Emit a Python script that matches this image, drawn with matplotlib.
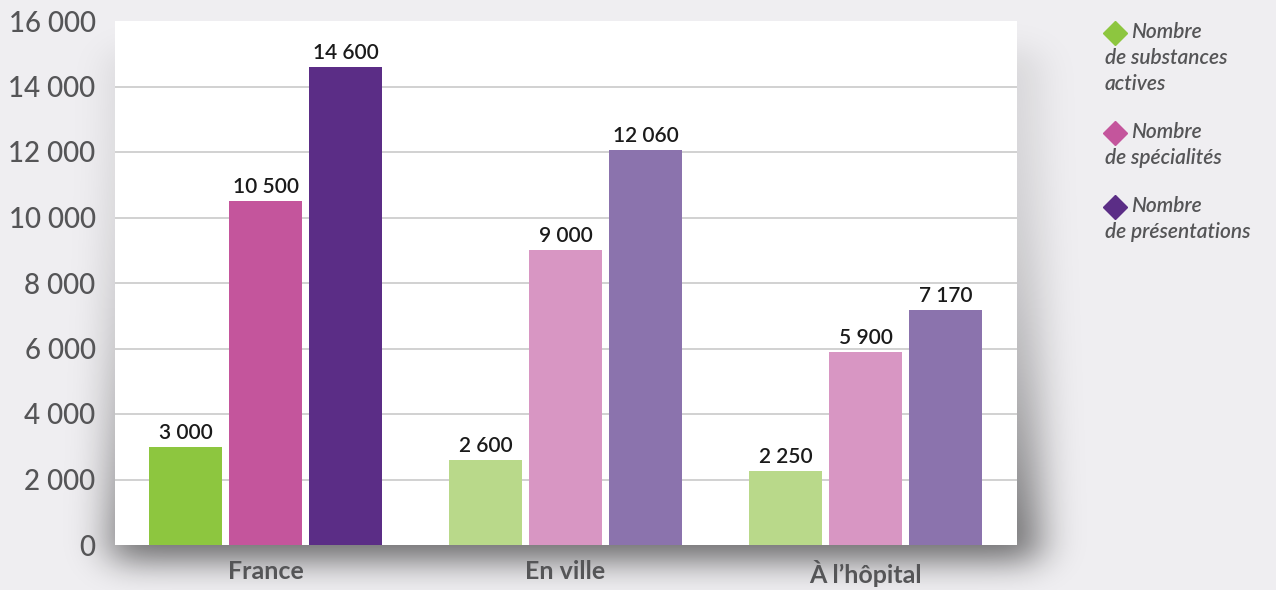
import math
import numpy as np
import matplotlib
matplotlib.use("Agg")
import matplotlib.pyplot as plt
from matplotlib.lines import Line2D

# ---- data ----
categories = ["France", "En ville", "À l’hôpital"]
series_names = ["Nombre\nde substances\nactives",
                "Nombre\nde spécialités",
                "Nombre\nde présentations"]
substances = [3000, 2600, 2250]
specialites = [10500, 9000, 5900]
presentations = [14600, 12060, 7170]
yticks = [0, 2000, 4000, 6000, 8000, 10000, 12000, 14000, 16000]

# ---- style ----
strong = ["#8dc63f", "#c4559c", "#5b2d86"]
light = ["#b9d98a", "#d896c3", "#8b73ad"]
txt_gray = "#555557"
plt.rcParams['font.family'] = ['Lato', 'DejaVu Sans']

W, H = 1276, 590
fig = plt.figure(figsize=(W / 100, H / 100), dpi=100)
fig.patch.set_facecolor("#efeef1")

# plot-area geometry in pixels
x0, x1, y0, y1 = 115, 1017, 21, 545

# soft drop shadow behind the plot area
bg = fig.add_axes([0, 0, 1, 1], zorder=0)
bg.axis("off")
xs = np.arange(W) + 0.5
ys = np.arange(H) + 0.5
verf = np.vectorize(math.erf)


def band(v, a, b, s):
    return 0.5 * (verf((v - a) / (s * math.sqrt(2))) - verf((v - b) / (s * math.sqrt(2))))


fx = band(xs, x0 - 4, x1 + 22, 20)
fy = band(ys, y0 + 30, y1 + 16, 16)
w = 0.10 + 0.45 * np.clip((ys - y0) / (y1 - y0), 0, 1) ** 2.5
shade = np.outer(fy * w, fx)
img = np.zeros((H, W, 4))
img[..., 3] = shade
bg.imshow(img, extent=[0, W, H, 0], aspect="auto", interpolation="bilinear")
bg.set_xlim(0, W)
bg.set_ylim(H, 0)

ax = fig.add_axes([x0 / W, 1 - y1 / H, (x1 - x0) / W, (y1 - y0) / H], zorder=1)
ax.set_facecolor("white")

x = np.arange(len(categories))
step = 0.267
width = 0.243
series = [substances, specialites, presentations]
for i, vals in enumerate(series):
    cols = [strong[i] if j == 0 else light[i] for j in range(len(categories))]
    bars = ax.bar(x + (i - 1) * step, vals, width=width, color=cols, zorder=3)
    ax.bar_label(bars, labels=[f"{v:,}".replace(",", " ") for v in vals],
                 padding=3, fontsize=15, color="#1a1a1a", fontweight="semibold")

ax.set_xlim(-0.502, 2.505)
ax.set_ylim(yticks[0], yticks[-1])
ax.set_yticks(yticks)
ax.set_yticklabels([f"{v:,}".replace(",", " ") for v in yticks], fontweight="medium")
ax.set_xticks(x)
ax.set_xticklabels(categories, fontweight="bold")
ax.tick_params(axis="y", length=0, pad=14, labelsize=20, labelcolor=txt_gray)
ax.tick_params(axis="x", length=0, pad=11, labelsize=18, labelcolor=txt_gray)
for s in ax.spines.values():
    s.set_visible(False)
ax.yaxis.grid(True, color="#c9c9c9", lw=1.2, zorder=0)
gl = ax.get_ygridlines()
gl[0].set_visible(False)
gl[-1].set_visible(False)

# legend (custom, in pixel positions)
marker_y = [33, 133, 207]
for i, name in enumerate(series_names):
    first, rest = name.split("\n", 1)
    my = marker_y[i]
    fig.add_artist(Line2D([1115 / W], [1 - my / H], marker="D", markersize=12,
                          color=strong[i], transform=fig.transFigure))
    base = my + 5
    fig.text(1131 / W, 1 - base / H, first, fontsize=15, style="italic",
             fontweight="semibold", color=txt_gray, va="baseline", ha="left")
    for k, line in enumerate(rest.split("\n")):
        fig.text(1105 / W, 1 - (base + 26 * (k + 1)) / H, line, fontsize=15,
                 style="italic", fontweight="semibold", color=txt_gray,
                 va="baseline", ha="left")

fig.savefig("out.png", dpi=100, facecolor=fig.get_facecolor())
